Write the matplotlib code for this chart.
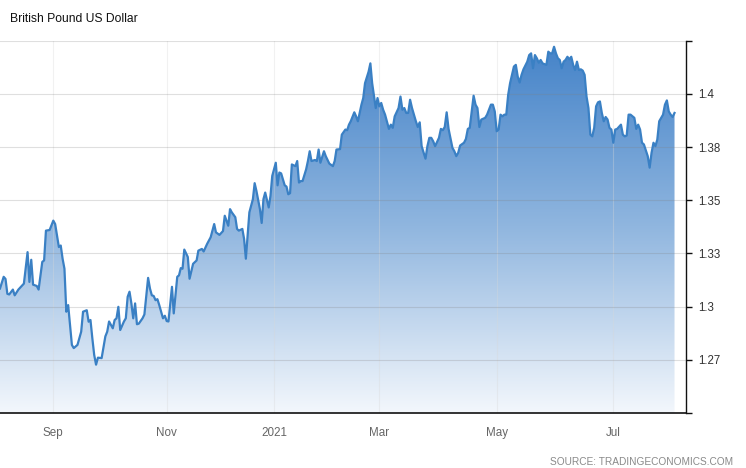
import numpy as np
import pandas as pd
import matplotlib
matplotlib.use("Agg")
import matplotlib.pyplot as plt
import matplotlib.dates as mdates
from matplotlib.colors import LinearSegmentedColormap

# GBP/USD daily rate
dates = [
    # Aug 2020
    "2020-08-03", "2020-08-05", "2020-08-06", "2020-08-07", "2020-08-08", "2020-08-10", "2020-08-11",
    "2020-08-13", "2020-08-16", "2020-08-18", "2020-08-19", "2020-08-20", "2020-08-21", "2020-08-23",
    "2020-08-24", "2020-08-26", "2020-08-27", "2020-08-28", "2020-08-30",
    # Sep
    "2020-09-01", "2020-09-02", "2020-09-04", "2020-09-05", "2020-09-06", "2020-09-07", "2020-09-08",
    "2020-09-09", "2020-09-10", "2020-09-11", "2020-09-12", "2020-09-14", "2020-09-16", "2020-09-17",
    "2020-09-19", "2020-09-20", "2020-09-21", "2020-09-22", "2020-09-23", "2020-09-24", "2020-09-25",
    "2020-09-27", "2020-09-29", "2020-09-30",
    # Oct
    "2020-10-01", "2020-10-03", "2020-10-04", "2020-10-05", "2020-10-06", "2020-10-07", "2020-10-09",
    "2020-10-10", "2020-10-11", "2020-10-12", "2020-10-13", "2020-10-14", "2020-10-15", "2020-10-16",
    "2020-10-17", "2020-10-19", "2020-10-20", "2020-10-22", "2020-10-23", "2020-10-24", "2020-10-25",
    "2020-10-26", "2020-10-27", "2020-10-28", "2020-10-30", "2020-10-31",
    # Nov
    "2020-11-01", "2020-11-02", "2020-11-04", "2020-11-05", "2020-11-07", "2020-11-08", "2020-11-09",
    "2020-11-10", "2020-11-11", "2020-11-13", "2020-11-14", "2020-11-16", "2020-11-18", "2020-11-19",
    "2020-11-21", "2020-11-22", "2020-11-24", "2020-11-26", "2020-11-28", "2020-11-29",
    # Dec
    "2020-12-01", "2020-12-03", "2020-12-04", "2020-12-06", "2020-12-07", "2020-12-08", "2020-12-10",
    "2020-12-11", "2020-12-12", "2020-12-14", "2020-12-15", "2020-12-16", "2020-12-17", "2020-12-18",
    "2020-12-20", "2020-12-21", "2020-12-22", "2020-12-24", "2020-12-25", "2020-12-26", "2020-12-27",
    "2020-12-29", "2020-12-30", "2020-12-31",
    # Jan 2021
    "2021-01-02", "2021-01-03", "2021-01-04", "2021-01-05", "2021-01-07", "2021-01-08", "2021-01-09",
    "2021-01-10", "2021-01-11", "2021-01-13", "2021-01-14", "2021-01-15", "2021-01-16", "2021-01-17",
    "2021-01-19", "2021-01-20", "2021-01-21", "2021-01-22", "2021-01-24", "2021-01-25", "2021-01-26",
    "2021-01-27", "2021-01-29", "2021-01-30",
    # Feb
    "2021-02-01", "2021-02-03", "2021-02-04", "2021-02-05", "2021-02-07", "2021-02-08", "2021-02-10",
    "2021-02-11", "2021-02-12", "2021-02-13", "2021-02-15", "2021-02-16", "2021-02-17", "2021-02-19",
    "2021-02-20", "2021-02-21", "2021-02-23", "2021-02-24", "2021-02-25", "2021-02-27", "2021-02-28",
    # Mar
    "2021-03-01", "2021-03-02", "2021-03-03", "2021-03-04", "2021-03-06", "2021-03-07", "2021-03-08",
    "2021-03-09", "2021-03-11", "2021-03-12", "2021-03-13", "2021-03-14", "2021-03-15", "2021-03-16",
    "2021-03-17", "2021-03-18", "2021-03-20", "2021-03-21", "2021-03-22", "2021-03-23", "2021-03-25",
    "2021-03-26", "2021-03-27", "2021-03-28", "2021-03-29", "2021-03-30",
    # Apr
    "2021-04-01", "2021-04-02", "2021-04-03", "2021-04-04", "2021-04-05", "2021-04-06", "2021-04-08",
    "2021-04-09", "2021-04-10", "2021-04-11", "2021-04-12", "2021-04-14", "2021-04-15", "2021-04-16",
    "2021-04-17", "2021-04-19", "2021-04-20", "2021-04-21", "2021-04-22", "2021-04-23", "2021-04-25",
    "2021-04-26", "2021-04-27", "2021-04-28", "2021-04-29", "2021-04-30",
    # May
    "2021-05-01", "2021-05-02", "2021-05-03", "2021-05-04", "2021-05-05", "2021-05-06", "2021-05-07",
    "2021-05-08", "2021-05-10", "2021-05-11", "2021-05-12", "2021-05-13", "2021-05-14", "2021-05-15",
    "2021-05-17", "2021-05-18", "2021-05-19", "2021-05-20", "2021-05-21", "2021-05-22", "2021-05-23",
    "2021-05-24", "2021-05-25", "2021-05-27", "2021-05-28", "2021-05-29", "2021-05-30", "2021-05-31",
    # Jun
    "2021-06-01", "2021-06-02", "2021-06-03", "2021-06-04", "2021-06-05", "2021-06-06", "2021-06-07",
    "2021-06-08", "2021-06-09", "2021-06-10", "2021-06-11", "2021-06-12", "2021-06-13", "2021-06-14",
    "2021-06-15", "2021-06-16", "2021-06-17", "2021-06-18", "2021-06-19", "2021-06-20", "2021-06-21",
    "2021-06-22", "2021-06-23", "2021-06-24", "2021-06-25", "2021-06-26", "2021-06-27", "2021-06-28",
    "2021-06-29", "2021-06-30",
    # Jul / Aug
    "2021-07-01", "2021-07-02", "2021-07-03", "2021-07-05", "2021-07-06", "2021-07-07", "2021-07-08",
    "2021-07-09", "2021-07-10", "2021-07-12", "2021-07-13", "2021-07-14", "2021-07-15", "2021-07-16",
    "2021-07-17", "2021-07-19", "2021-07-20", "2021-07-21", "2021-07-22", "2021-07-23", "2021-07-24",
    "2021-07-25", "2021-07-27", "2021-07-28", "2021-07-29", "2021-07-30", "2021-07-31", "2021-08-01",
    "2021-08-02",
]

rates = [
    # Aug 2020
    1.3085, 1.3140, 1.3130, 1.3060, 1.3057, 1.3080, 1.3053,
    1.3080, 1.3108, 1.3256, 1.3116, 1.3220, 1.3103, 1.3097,
    1.3080, 1.3210, 1.3217, 1.3357, 1.3360,
    # Sep
    1.3404, 1.3388, 1.3280, 1.3287, 1.3225, 1.3178, 1.2976,
    1.3007, 1.2913, 1.2820, 1.2805, 1.2820, 1.2882, 1.2976,
    1.2983, 1.2929, 1.2937, 1.2851, 1.2773, 1.2727, 1.2760,
    1.2758, 1.2860, 1.2882,
    # Oct
    1.2930, 1.2898, 1.2937, 1.2945, 1.2999, 1.2890, 1.2930,
    1.2945, 1.3046, 1.3070, 1.3015, 1.2945, 1.3015, 1.2917,
    1.2920, 1.2945, 1.2963, 1.3135, 1.3085, 1.3053, 1.3050,
    1.3030, 1.3035, 1.3007, 1.2945, 1.2957,
    # Nov
    1.2932, 1.2930, 1.3093, 1.2968, 1.3140, 1.3147, 1.3181,
    1.3178, 1.3268, 1.3233, 1.3131, 1.3201, 1.3217, 1.3263,
    1.3271, 1.3259, 1.3295, 1.3326, 1.3388, 1.3349,
    # Dec
    1.3337, 1.3355, 1.3427, 1.3380, 1.3458, 1.3443, 1.3420,
    1.3365, 1.3357, 1.3365, 1.3318, 1.3225, 1.3334, 1.3443,
    1.3505, 1.3580, 1.3544, 1.3458, 1.3393, 1.3505, 1.3536,
    1.3466, 1.3520, 1.3614,
    # Jan 2021
    1.3676, 1.3570, 1.3630, 1.3626, 1.3570, 1.3564, 1.3528,
    1.3533, 1.3668, 1.3660, 1.3684, 1.3583, 1.3590, 1.3590,
    1.3645, 1.3684, 1.3730, 1.3684, 1.3689, 1.3684, 1.3738,
    1.3676, 1.3730, 1.3707,
    # Feb
    1.3672, 1.3660, 1.3684, 1.3738, 1.3740, 1.3808, 1.3832,
    1.3829, 1.3855, 1.3871, 1.3913, 1.3894, 1.3871, 1.3949,
    1.3980, 1.4050, 1.4104, 1.4143, 1.4050, 1.3933, 1.3980,
    # Mar
    1.3941, 1.3957, 1.3925, 1.3902, 1.3835, 1.3855, 1.3840,
    1.3894, 1.3933, 1.3987, 1.3925, 1.3933, 1.3910, 1.3910,
    1.3972, 1.3933, 1.3871, 1.3844, 1.3866, 1.3754, 1.3695,
    1.3754, 1.3793, 1.3793, 1.3777, 1.3754,
    # Apr
    1.3793, 1.3835, 1.3829, 1.3844, 1.3913, 1.3835, 1.3746,
    1.3730, 1.3707, 1.3723, 1.3757, 1.3770, 1.3788, 1.3835,
    1.3840, 1.3991, 1.3949, 1.3933, 1.3844, 1.3879, 1.3887,
    1.3902, 1.3925, 1.3949, 1.3949, 1.3917,
    # May
    1.3824, 1.3832, 1.3902, 1.3894, 1.3902, 1.3902, 1.3995,
    1.4050, 1.4128, 1.4136, 1.4081, 1.4053, 1.4089, 1.4115,
    1.4151, 1.4182, 1.4190, 1.4120, 1.4182, 1.4167, 1.4146,
    1.4159, 1.4143, 1.4136, 1.4198, 1.4190, 1.4190, 1.4221,
    # Jun
    1.4190, 1.4167, 1.4159, 1.4120, 1.4151, 1.4159, 1.4174,
    1.4162, 1.4174, 1.4136, 1.4112, 1.4151, 1.4112, 1.4115,
    1.4109, 1.4089, 1.3987, 1.3933, 1.3808, 1.3800, 1.3840,
    1.3941, 1.3960, 1.3964, 1.3910, 1.3871, 1.3891, 1.3879,
    1.3840, 1.3832,
    # Jul / Aug
    1.3770, 1.3832, 1.3835, 1.3855, 1.3808, 1.3800, 1.3804,
    1.3902, 1.3902, 1.3887, 1.3835, 1.3855, 1.3832, 1.3770,
    1.3762, 1.3707, 1.3653, 1.3723, 1.3770, 1.3754, 1.3785,
    1.3871, 1.3902, 1.3949, 1.3969, 1.3917, 1.3902, 1.3891,
    1.3910,
]

tick_dates = ["2020-09-01", "2020-11-01", "2021-01-01", "2021-03-01", "2021-05-01", "2021-07-01"]
tick_labels = ["Sep", "Nov", "2021", "Mar", "May", "Jul"]
y_ticks = [1.25, 1.275, 1.30, 1.325, 1.35, 1.375, 1.40, 1.425]
y_labels = ["", "1.27", "1.3", "1.33", "1.35", "1.38", "1.4", ""]

# the site spaces months unevenly (trading sessions), so stretch the date axis piecewise
scale_dates = ["2020-08-03"] + tick_dates + ["2021-08-08"]
scale_pos = [0, 53.3, 166.7, 274, 379.3, 496.7, 613.3, 686]
scale_nums = mdates.date2num(pd.to_datetime(scale_dates))


def fwd(v):
    return np.interp(v, scale_nums, scale_pos)


def inv(v):
    return np.interp(v, scale_pos, scale_nums)


plt.rcParams['font.family'] = ['Liberation Sans', 'DejaVu Sans']

x = pd.to_datetime(dates)
y = np.array(rates)
ymin, ymax = 1.25, 1.425

fig = plt.figure(figsize=(7.46, 4.68), dpi=100)
ax = fig.add_axes([0, 1 - 413 / 468, 686 / 746, (413 - 40.6) / 468])

# gradient under the line, clipped to the area
poly = ax.fill_between(x, y, ymin, facecolor='none', edgecolor='none')
cmap = LinearSegmentedColormap.from_list("fx", ["#f3f7fc", "#90b6df", "#4382c8"])
grad = np.linspace(0, 1, 256).reshape(-1, 1)
im = ax.imshow(grad, cmap=cmap, origin='lower', aspect='auto', extent=[0, 1, 0, 1],
               transform=ax.transAxes, zorder=1)
im.set_clip_path(poly.get_paths()[0], ax.transData)

ax.plot(x, y, color='#3a80c4', lw=1.6, zorder=3, solid_joinstyle='round')

ax.set_xscale('function', functions=(fwd, inv))
ax.set_xlim(scale_nums[0], scale_nums[-1])
ax.set_ylim(ymin, ymax)

ax.set_xticks(mdates.date2num(pd.to_datetime(tick_dates)))
ax.set_xticklabels(tick_labels)
ax.set_yticks(y_ticks)
ax.set_yticklabels(y_labels)

ax.set_axisbelow('line')
ax.grid(axis='y', color='#808080', lw=0.8, alpha=0.25)
ax.grid(axis='x', color='#d8d8d8', lw=0.8, alpha=0.35)

ax.yaxis.tick_right()
ax.tick_params(axis='y', direction='out', length=4.5, width=1, color='#111111',
               labelsize=8.3, labelcolor='#333333', pad=4)
ax.tick_params(axis='x', length=0, labelsize=8.4, labelcolor='#666666', pad=10)

for side in ['left', 'top']:
    ax.spines[side].set_visible(False)
ax.spines['right'].set_color('#111111')
ax.spines['bottom'].set_color('#111111')
ax.spines['right'].set_linewidth(1)
ax.spines['bottom'].set_linewidth(1.2)

fig.text(10 / 746, 1 - 19 / 468, "British Pound US Dollar", fontsize=8.7, color='#111111', va='center')
fig.text(733 / 746, 1 - 462 / 468, "SOURCE: TRADINGECONOMICS.COM", fontsize=7.3,
         color='#8a8a8a', ha='right', va='center')

fig.savefig("out.png", dpi=100)
